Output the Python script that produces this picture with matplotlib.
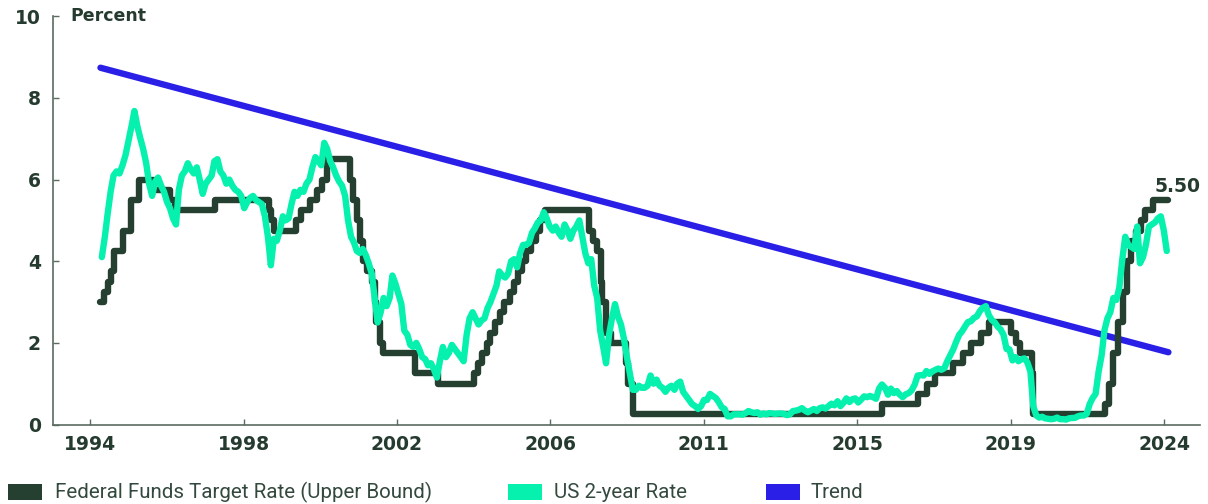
import matplotlib
matplotlib.use("Agg")
import matplotlib.pyplot as plt
import matplotlib.dates as mdates
import numpy as np
import pandas as pd
from matplotlib.patches import Rectangle

# Federal Funds target rate (upper bound): date of each change and the new level
fed_dates = [
    "1994-01-01", "1994-02-04", "1994-03-22", "1994-04-18", "1994-05-17", "1994-08-16",
    "1994-11-15", "1995-02-01", "1995-07-06", "1995-12-19", "1996-01-31", "1997-03-25",
    "1998-09-29", "1998-10-15", "1998-11-17", "1999-06-30", "1999-08-24", "1999-11-16",
    "2000-02-02", "2000-03-21", "2000-05-16", "2001-01-03", "2001-01-31", "2001-03-20",
    "2001-04-18", "2001-05-15", "2001-06-27", "2001-08-21", "2001-09-17", "2001-10-02",
    "2001-11-06", "2001-12-11", "2002-11-06", "2003-06-25", "2004-06-30", "2004-08-10",
    "2004-09-21", "2004-11-10", "2004-12-14", "2005-02-02", "2005-03-22", "2005-05-03",
    "2005-06-30", "2005-08-09", "2005-09-20", "2005-11-01", "2005-12-13", "2006-01-31",
    "2006-03-28", "2006-05-10", "2006-06-29", "2007-09-18", "2007-10-31", "2007-12-11",
    "2008-01-22", "2008-01-30", "2008-03-18", "2008-04-30", "2008-10-08", "2008-10-29",
    "2008-12-16", "2015-12-17", "2016-12-15", "2017-03-16", "2017-06-15", "2017-12-14",
    "2018-03-22", "2018-06-14", "2018-09-27", "2018-12-20", "2019-08-01", "2019-09-19",
    "2019-10-31", "2020-03-04", "2020-03-16", "2022-03-17", "2022-05-05", "2022-06-16",
    "2022-07-28", "2022-09-22", "2022-11-03", "2022-12-15", "2023-02-02", "2023-03-23",
    "2023-05-04", "2023-07-27",
]
fed_levels = [
    3.00, 3.25, 3.50, 3.75, 4.25, 4.75,
    5.50, 6.00, 5.75, 5.50, 5.25, 5.50,
    5.25, 5.00, 4.75, 5.00, 5.25, 5.50,
    5.75, 6.00, 6.50, 6.00, 5.50, 5.00,
    4.50, 4.00, 3.75, 3.50, 3.00, 2.50,
    2.00, 1.75, 1.25, 1.00, 1.25, 1.50,
    1.75, 2.00, 2.25, 2.50, 2.75, 3.00,
    3.25, 3.50, 3.75, 4.00, 4.25, 4.50,
    4.75, 5.00, 5.25, 4.75, 4.50, 4.25,
    3.50, 3.00, 2.25, 2.00, 1.50, 1.00,
    0.25, 0.50, 0.75, 1.00, 1.25, 1.50,
    1.75, 2.00, 2.25, 2.50, 2.25, 2.00,
    1.75, 1.25, 0.25, 0.50, 1.00, 1.75,
    2.50, 3.25, 4.00, 4.50, 4.75, 5.00,
    5.25, 5.50,
]
fed_last_date = "2024-01-01"

# US 2-year Treasury yield, monthly, January 1994 to December 2023
two_year_first_month = "1994-01"
two_year = [
    4.10, 4.60, 5.15, 5.70, 6.10, 6.20, 6.15, 6.35, 6.60, 6.95, 7.30, 7.68,   # 1994
    7.30, 7.00, 6.75, 6.40, 5.90, 5.60, 5.95, 6.05, 5.85, 5.70, 5.45, 5.30,   # 1995
    5.05, 4.90, 5.75, 6.10, 6.20, 6.40, 6.25, 6.15, 6.30, 6.00, 5.65, 5.90,   # 1996
    6.00, 6.10, 6.45, 6.50, 6.20, 6.10, 5.90, 6.00, 5.85, 5.75, 5.70, 5.60,   # 1997
    5.30, 5.45, 5.55, 5.60, 5.50, 5.45, 5.40, 5.10, 4.60, 3.90, 4.55, 4.50,   # 1998
    4.75, 5.10, 5.00, 5.05, 5.40, 5.70, 5.60, 5.75, 5.70, 5.90, 6.00, 6.30,   # 1999
    6.55, 6.45, 6.35, 6.90, 6.75, 6.45, 6.30, 6.10, 5.95, 5.85, 5.60, 5.00,   # 2000
    4.60, 4.45, 4.25, 4.20, 4.30, 4.15, 3.95, 3.70, 3.10, 2.50, 2.75, 3.10,   # 2001
    2.90, 3.10, 3.65, 3.45, 3.20, 2.95, 2.30, 2.20, 1.95, 1.90, 2.00, 1.85,   # 2002
    1.65, 1.60, 1.45, 1.50, 1.35, 1.15, 1.55, 1.90, 1.65, 1.75, 1.95, 1.85,   # 2003
    1.75, 1.65, 1.55, 2.20, 2.60, 2.75, 2.60, 2.45, 2.55, 2.60, 2.85, 3.00,   # 2004
    3.20, 3.40, 3.75, 3.65, 3.60, 3.70, 4.00, 4.05, 3.85, 4.20, 4.40, 4.40,   # 2005
    4.45, 4.70, 4.80, 4.95, 5.00, 5.20, 5.05, 4.85, 4.75, 4.85, 4.70, 4.60,   # 2006
    4.90, 4.75, 4.55, 4.75, 4.85, 5.00, 4.60, 4.20, 3.95, 4.05, 3.40, 3.10,   # 2007
    2.30, 1.90, 1.50, 2.20, 2.60, 2.95, 2.65, 2.45, 2.10, 1.65, 1.25, 0.85,   # 2008
    0.85, 0.95, 0.90, 0.90, 0.95, 1.20, 1.00, 1.10, 0.95, 0.90, 0.80, 0.90,   # 2009
    0.95, 0.85, 1.00, 1.05, 0.80, 0.70, 0.60, 0.50, 0.45, 0.38, 0.45, 0.60,   # 2010
    0.60, 0.75, 0.70, 0.65, 0.55, 0.42, 0.38, 0.20, 0.20, 0.25, 0.25, 0.25,   # 2011
    0.24, 0.28, 0.33, 0.30, 0.28, 0.30, 0.24, 0.27, 0.25, 0.28, 0.27, 0.26,   # 2012
    0.27, 0.27, 0.26, 0.23, 0.25, 0.33, 0.34, 0.36, 0.40, 0.34, 0.30, 0.34,   # 2013
    0.38, 0.33, 0.40, 0.42, 0.39, 0.45, 0.51, 0.47, 0.57, 0.45, 0.53, 0.64,   # 2014
    0.55, 0.62, 0.64, 0.54, 0.61, 0.69, 0.67, 0.70, 0.67, 0.63, 0.88, 0.98,   # 2015
    0.90, 0.73, 0.88, 0.77, 0.82, 0.73, 0.67, 0.74, 0.77, 0.84, 0.98, 1.20,   # 2016
    1.21, 1.20, 1.31, 1.24, 1.30, 1.34, 1.37, 1.34, 1.38, 1.55, 1.70, 1.84,   # 2017
    2.03, 2.20, 2.28, 2.40, 2.51, 2.53, 2.61, 2.65, 2.78, 2.86, 2.90, 2.68,   # 2018
    2.56, 2.50, 2.40, 2.33, 2.20, 1.85, 1.84, 1.57, 1.65, 1.55, 1.60, 1.62,   # 2019
    1.52, 1.30, 0.45, 0.22, 0.17, 0.19, 0.15, 0.14, 0.13, 0.14, 0.17, 0.13,   # 2020
    0.13, 0.12, 0.15, 0.16, 0.16, 0.20, 0.22, 0.22, 0.26, 0.50, 0.65, 0.75,   # 2021
    1.30, 1.70, 2.30, 2.60, 2.75, 3.10, 3.05, 3.35, 4.05, 4.60, 4.40, 4.35,   # 2022
    4.30, 4.85, 3.95, 4.10, 4.40, 4.85, 4.90, 4.95, 5.05, 5.10, 4.75, 4.25,   # 2023
]

# Straight trend line, start and end
trend_dates = ["1994-01-01", "2024-01-01"]
trend_values = [8.74, 1.77]

y_ticks = [0, 2, 4, 6, 8, 10]
x_tick_labels = ["1994", "1998", "2002", "2006", "2011", "2015", "2019", "2024"]
series_names = ["Federal Funds Target Rate (Upper Bound)", "US 2-year Rate", "Trend"]

DARK = "#253F30"
MINT = "#06F0AE"
BLUE = "#2A1FE6"
INK = "#263B2F"
LEGEND_INK = "#34493D"
AXIS = "#5A6B60"

W, H = 1208, 504
fig = plt.figure(figsize=(W / 100, H / 100), dpi=100)
fig.patch.set_facecolor("white")
ax = fig.add_axes([53.3 / W, 1 - 424.5 / H, (1200 - 53.3) / W, (424.5 - 16.3) / H])
ax.set_facecolor("white")

fed_x = pd.to_datetime(fed_dates + [fed_last_date])
fed_y = fed_levels + [fed_levels[-1]]
two_x = pd.date_range(two_year_first_month, periods=len(two_year), freq="MS") + pd.Timedelta(days=14)
trend_x = pd.to_datetime(trend_dates)

line_kw = dict(solid_capstyle="round", solid_joinstyle="round")
ax.plot(trend_x, trend_values, color=BLUE, lw=4.6, zorder=2, **line_kw)
ax.step(fed_x, fed_y, where="post", color=DARK, lw=4.6, zorder=3, **line_kw)
ax.plot(two_x, two_year, color=MINT, lw=4.6, zorder=4, **line_kw)

ax.set_ylim(0, 10)
ax.set_xlim(pd.Timestamp("1992-09-04"), pd.Timestamp("2024-11-20"))

tick_pos = np.linspace(mdates.date2num(pd.Timestamp("1993-09-17")),
                       mdates.date2num(pd.Timestamp("2023-11-17")), len(x_tick_labels))
ax.set_xticks(tick_pos)
ax.set_xticklabels(x_tick_labels)
ax.set_yticks(y_ticks)
ax.set_yticklabels([str(v) for v in y_ticks])

tick_font = dict(family="DejaVu Sans", weight="bold", size=13.5)
for lab in ax.get_xticklabels() + ax.get_yticklabels():
    lab.set_fontfamily(tick_font["family"])
    lab.set_fontweight(tick_font["weight"])
    lab.set_fontsize(tick_font["size"])
    lab.set_color(INK)
ax.tick_params(axis="x", direction="in", length=4, width=1, color=AXIS, pad=7.5)
ax.tick_params(axis="y", direction="in", length=4, width=1, color=AXIS, pad=9)

for side in ("top", "right"):
    ax.spines[side].set_visible(False)
for side in ("left", "bottom"):
    ax.spines[side].set_color(AXIS)
    ax.spines[side].set_linewidth(1.2)

ax.annotate("Percent", xy=(0, 10), xycoords=("axes fraction", "data"),
            xytext=(12.5, 0), textcoords="offset points", ha="left", va="center",
            color=INK, family="DejaVu Sans", weight="bold", size=12.5)

ax.annotate(f"{fed_y[-1]:.2f}", xy=(fed_x[-1], fed_y[-1]), xytext=(6.5, 10),
            textcoords="offset points", ha="center", va="center", color=INK,
            family="DejaVu Sans", weight="bold", size=13.5)

# Legend along the bottom edge
legend_items = [(8, DARK, 55), (508, MINT, 554), (766, BLUE, 811)]
for (px, col, tx), name in zip(legend_items, series_names):
    fig.patches.append(Rectangle((px / W, 1 - 500 / H), 34 / W, 16.5 / H,
                                 transform=fig.transFigure, color=col, lw=0))
    fig.text(tx / W, 1 - 492 / H, name, ha="left", va="center", color=LEGEND_INK,
             family="Roboto", size=14.8)

fig.savefig("out.png", dpi=100, facecolor="white")
